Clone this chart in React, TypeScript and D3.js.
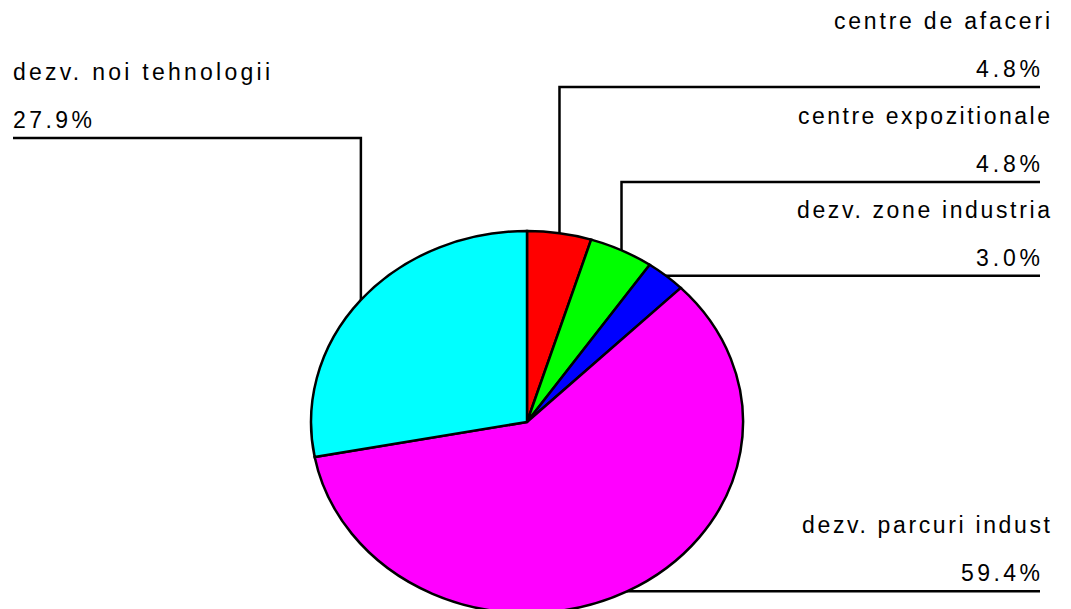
import React from "react";
import * as d3 from "d3";

const categories = [
  "centre de afaceri",
  "centre expozitionale",
  "dezv. zone industria",
  "dezv. parcuri indust",
  "dezv. noi tehnologii",
];
const values = [4.8, 4.8, 3.0, 59.4, 27.9];
const colors = ["#ff0000", "#00ff00", "#0000ff", "#ff00ff", "#00ffff"];

// layout (not data)
const W = 1071;
const H = 609;
const cx = 527;
const cy = 422;
const rx = 216;
const ry = 191;
const labelLineY = [87, 182, null, null, 138];
const sideRight = [true, true, true, true, false];
const nameWidths = [216, 252, 253, 248, 257];
const pctWidths = [64, 64, 64, 79, 79];

export default function App() {
  const pie = d3.pie<number>().sort(null).value((d) => d)(values);
  const arc = d3.arc<d3.PieArcDatum<number>>().innerRadius(0).outerRadius(1);

  return (
    <svg
      width={W}
      height={H}
      style={{ position: "absolute", left: 0, top: 0, background: "#fff" }}
      fontFamily="Liberation Sans, Arial, sans-serif"
    >
      <g transform={`translate(${cx},${cy}) scale(${rx},${ry})`}>
        {pie.map((p, i) => (
          <path
            key={i}
            d={arc(p) || ""}
            fill={colors[i]}
            stroke="#000"
            strokeWidth={2.5}
            vectorEffect="non-scaling-stroke"
          />
        ))}
      </g>
      {pie.map((p, i) => {
        const mid = (p.startAngle + p.endAngle) / 2;
        const px = cx + rx * Math.sin(mid);
        const py = cy - ry * Math.cos(mid);
        const ly = labelLineY[i] ?? py;
        const right = sideRight[i];
        const endX = right ? 1040 : 13;
        const pts: [number, number][] =
          labelLineY[i] != null
            ? [
                [px, py],
                [px, ly],
                [endX, ly],
              ]
            : [
                [px, py],
                [endX, ly],
              ];
        const pct = values[i].toFixed(1) + "%";
        const nameX = right ? 1050 : 13;
        const anchor = right ? "end" : "start";
        return (
          <g key={i}>
            <path
              d={d3.line()(pts) || ""}
              fill="none"
              stroke="#000"
              strokeWidth={2.5}
            />
            <text
              x={nameX}
              y={ly - 58}
              fontSize={23}
              textAnchor={anchor}
              textLength={nameWidths[i]}
              lengthAdjust="spacing"
              fill="#000"
            >
              {categories[i]}
            </text>
            <text
              x={endX}
              y={ly - 10}
              fontSize={23}
              textAnchor={anchor}
              textLength={pctWidths[i]}
              lengthAdjust="spacing"
              fill="#000"
            >
              {pct}
            </text>
          </g>
        );
      })}
    </svg>
  );
}
